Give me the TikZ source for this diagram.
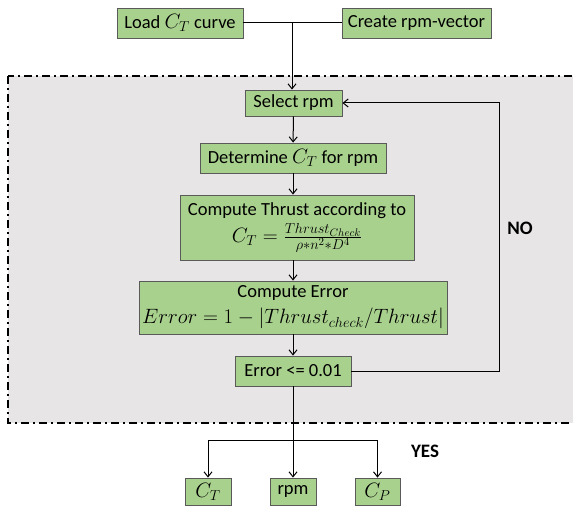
\documentclass[tikz,border=0pt]{standalone}
\usepackage{fontspec}
\setmainfont{Carlito}
\usepackage{amsmath}
\usepackage{xcolor}
\definecolor{leaf}{HTML}{A9D18E}
\definecolor{edge}{HTML}{5A5A5A}
\definecolor{panel}{HTML}{E7E5E6}
\usetikzlibrary{arrows.meta,positioning}
\newcommand{\eqbig}[1]{{\fontsize{21}{24}\selectfont$#1$}}

\begin{document}
\begin{tikzpicture}[
  x=1pt, y=-1pt,
  font=\fontsize{18.5}{21}\selectfont,
  stepbox/.style={draw=edge, fill=leaf, line width=0.8pt, inner sep=1pt, align=center},
  flow/.style={-{Straight Barb[length=5pt,width=8pt]}, line width=1pt},
  link/.style={line width=1pt},
  tag/.style={font=\fontsize{19}{21}\selectfont\bfseries}
]
\useasboundingbox (0,0) rectangle (573,508);

% Loop region
\draw[fill=panel, line width=1.6pt, dash pattern=on 8pt off 4pt on 2pt off 4pt]
  (8,76) rectangle (600,423);

% Inputs
\node[stepbox, minimum width=126pt, minimum height=30pt] (load) at (180,23) {Load \eqbig{C_T} curve};
\node[stepbox, minimum width=149pt, minimum height=30pt] (vec) at (416.5,23) {Create rpm-vector};

% Loop steps
\node[stepbox, minimum width=97pt, minimum height=26pt] (select) at (293.5,103) {Select rpm};
\node[stepbox, minimum width=186pt, minimum height=30pt] (determine) at (293,158) {Determine \eqbig{C_T} for rpm};
\node[stepbox, minimum width=234pt, minimum height=65pt] (thrust) at (297,227.5)
  {Compute Thrust according to\\[4pt]
   \eqbig{C_T=\frac{Thrust_{Check}}{\rho\ast n^2\ast D^4}}};
\node[stepbox, minimum width=308pt, minimum height=53pt] (error) at (293,307.5)
  {Compute Error\\[5pt]
   \eqbig{Error = 1 - |Thrust_{check}/Thrust|}};
\node[stepbox, minimum width=116pt, minimum height=30pt] (check) at (293,371) {Error <= 0.01};

% Outputs
\node[stepbox, minimum width=46pt, minimum height=27pt] (outCT) at (208,491.5) {\eqbig{C_T}};
\node[stepbox, minimum width=46pt, minimum height=27pt] (outrpm) at (293,491.5) {rpm};
\node[stepbox, minimum width=45pt, minimum height=27pt] (outCP) at (377.5,491.5) {\eqbig{C_P}};

% Connectors
\coordinate (join) at (292,23);
\coordinate (back) at (499,0);
\coordinate (fork) at (293,440);
\draw[link] (load) -- (vec);
\draw[flow] (join) -- (join |- select.north);
\draw[flow] (select) -- (determine);
\draw[flow] (determine) -- (determine |- thrust.north);
\draw[flow] (thrust.south -| error) -- (error);
\draw[flow] (error) -- (check);
\draw[flow] (check.east) -- (check.east -| back) -- (select.east -| back) -- (select.east);
\draw[flow] (check) -- (outrpm);
\draw[flow] (fork) -| (outCT);
\draw[flow] (fork) -| (outCP);

% Branch labels
\node[tag] (no) at (520,228) {NO};
\node[tag] (yes) at (425,451) {YES};

\end{tikzpicture}
\end{document}
